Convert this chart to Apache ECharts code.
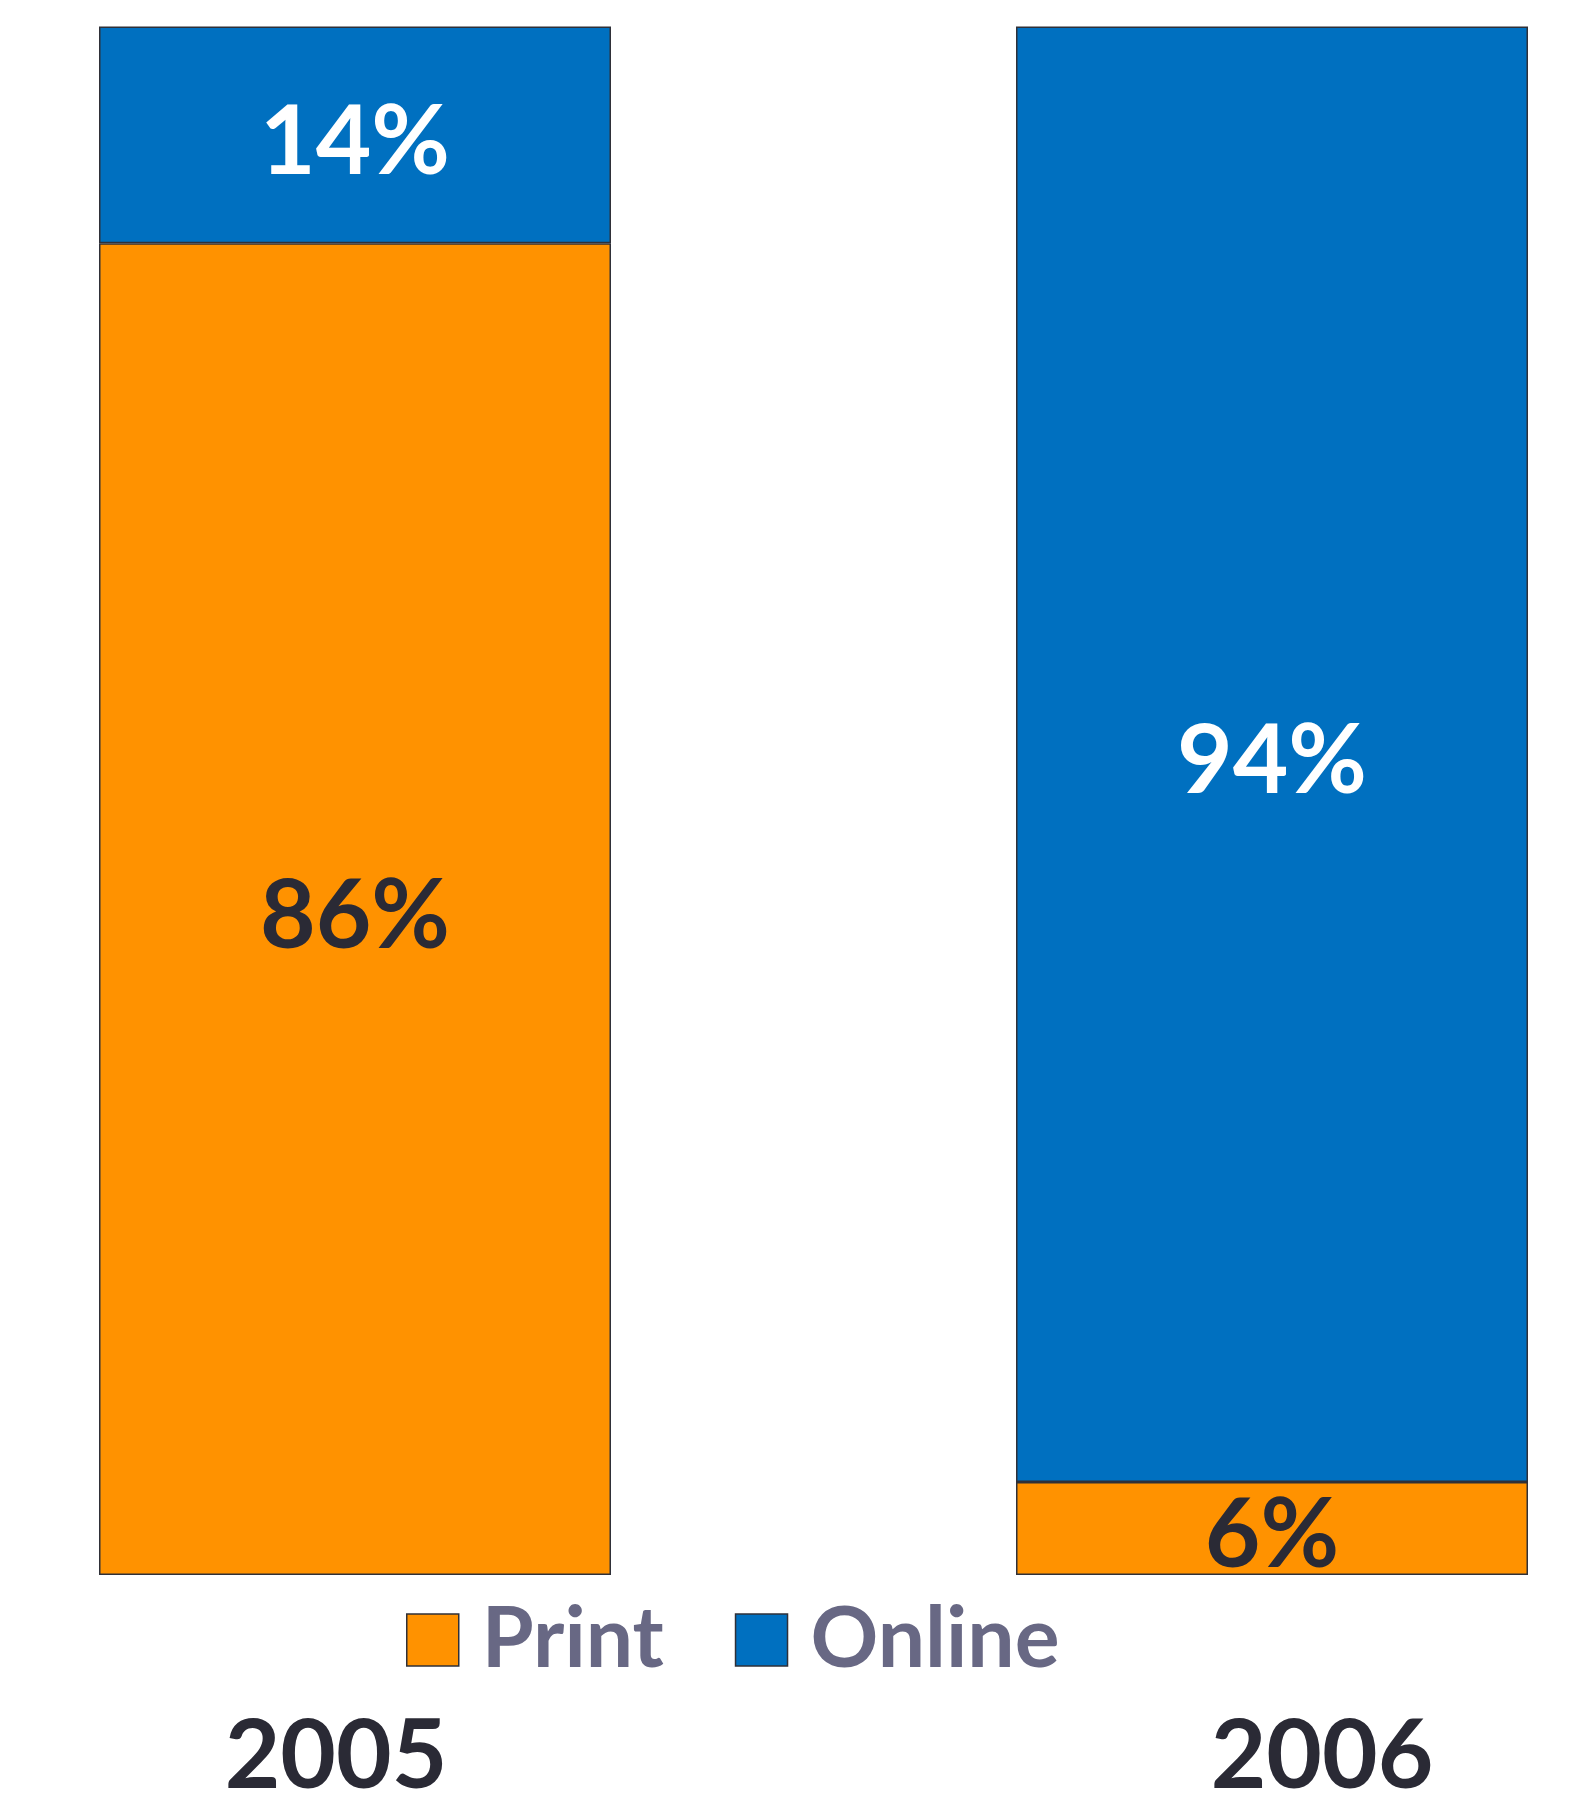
<!DOCTYPE html>
<html><head><meta charset="utf-8">
<script src="https://cdn.jsdelivr.net/npm/echarts@6/dist/echarts.min.js"></script>
<style>html,body{margin:0;padding:0;background:#fff}#c{width:1580px;height:1808px}</style>
</head><body><div id="c"></div>
<script>
const categories = ['2005', '2006'];
const seriesNames = ['Print', 'Online'];
const printValues = [86, 6];
const onlineValues = [14, 94];

const chart = echarts.init(document.getElementById('c'));
const FONT = 'Lato';
chart.setOption({
  animation: false,
  grid: { left: 355, right: 308, top: 26.5, bottom: 233, containLabel: false },
  legend: {
    data: seriesNames,
    icon: 'rect',
    left: 401, top: 1593,
    itemWidth: 52, itemHeight: 52, itemGap: 71,
    itemStyle: { borderColor: '#2F3038', borderWidth: 1.5 },
    textStyle: { fontFamily: FONT, fontWeight: 'bold', fontSize: 84, color: '#686884', lineHeight: 84, padding: [0, 0, 0, 18] }
  },
  xAxis: {
    type: 'category', data: categories, boundaryGap: false,
    axisLine: { show: false }, axisTick: { show: false },
    axisLabel: {
      margin: 134,
      formatter: (v, i) => i === 0 ? '{l|' + v + '}' : '{r|' + v + '}',
      rich: {
        l: { fontFamily: FONT, fontWeight: 'bold', fontSize: 96, lineHeight: 96, color: '#2A2A35', padding: [0, 38, 0, 0] },
        r: { fontFamily: FONT, fontWeight: 'bold', fontSize: 96, lineHeight: 96, color: '#2A2A35', padding: [0, 0, 0, 100] }
      }
    }
  },
  yAxis: { type: 'value', min: 0, max: 100, show: false, splitLine: { show: false } },
  series: [
    {
      name: seriesNames[0], type: 'bar', stack: 's', data: printValues, barWidth: 512,
      itemStyle: { color: '#FF9200', borderColor: '#2F3038', borderWidth: 1.5 },
      label: { show: true, position: 'inside', offset: [0, 8], formatter: '{c}%', fontFamily: FONT, fontWeight: 'bold', fontSize: 96, color: '#2A2A35' }
    },
    {
      name: seriesNames[1], type: 'bar', stack: 's', data: onlineValues, barWidth: 512,
      itemStyle: { color: '#0070C0', borderColor: '#2F3038', borderWidth: 1.5 },
      label: { show: true, position: 'inside', offset: [0, 8], formatter: '{c}%', fontFamily: FONT, fontWeight: 'bold', fontSize: 96, color: '#FFFFFF' }
    }
  ]
});
</script></body></html>
